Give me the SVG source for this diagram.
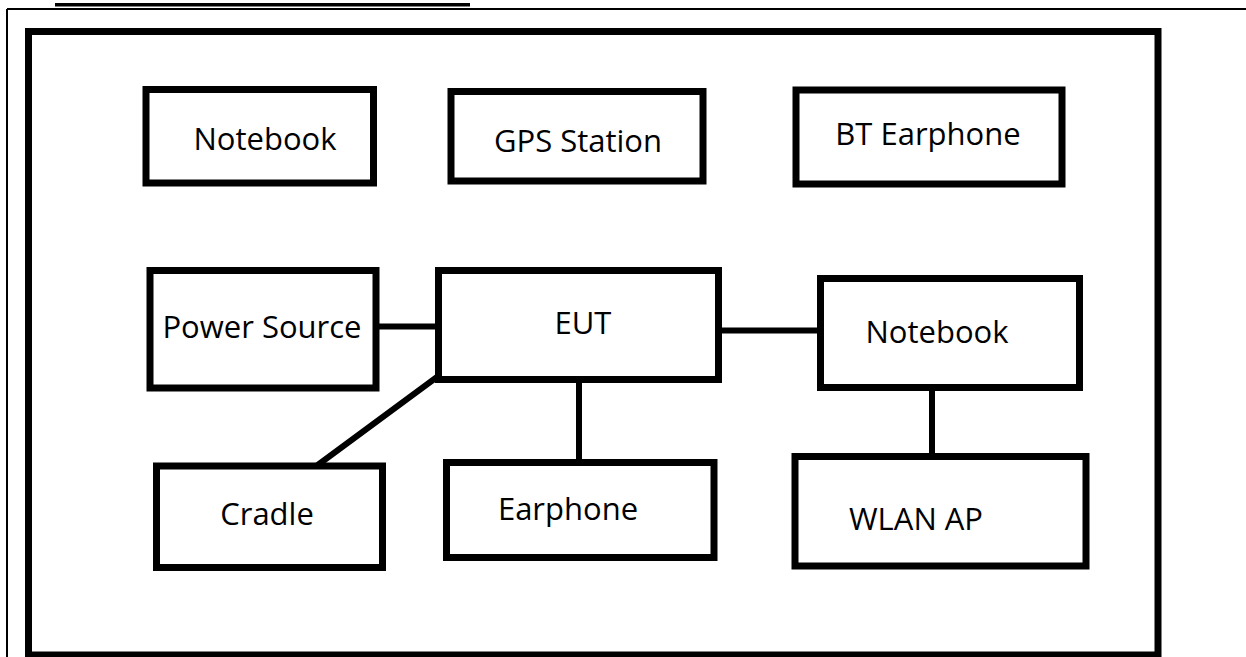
<svg xmlns="http://www.w3.org/2000/svg" width="1246" height="657" viewBox="0 0 1246 657">
<style>
  .box { fill: #ffffff; stroke: #000000; stroke-width: 7; }
  .lbl { font-family: "Open Sans", "Noto Sans", "Liberation Sans", sans-serif; font-size: 31px; fill: #000000; text-anchor: middle; }
  .conn { stroke: #000000; stroke-width: 6; fill: none; stroke-linecap: round; }
  .frame { stroke: #000000; stroke-width: 2; fill: none; }
</style>
<rect width="1246" height="657" fill="#ffffff"/>
<g id="page-frame">
  <line class="frame" x1="7" y1="9" x2="1246" y2="9"/>
  <line class="frame" x1="7" y1="9" x2="7" y2="657"/>
  <rect x="55" y="3" width="415" height="3.5" fill="#000000"/>
</g>
<g id="outer-box">
  <rect x="28.5" y="31.5" width="1129.5" height="623.5" fill="#ffffff" stroke="#000000" stroke-width="7"/>
</g>
<g id="connectors">
  <line class="conn" x1="373" y1="326.5" x2="438" y2="326.5"/>
  <line class="conn" x1="718" y1="330.5" x2="826" y2="330.5"/>
  <line class="conn" x1="437" y1="377" x2="315" y2="467"/>
  <line class="conn" x1="579" y1="378" x2="579" y2="470"/>
  <line class="conn" x1="932" y1="383" x2="932" y2="462"/>
</g>
<g id="node-notebook-top">
  <rect class="box" x="146" y="89.5" width="227.5" height="93.5"/>
  <text class="lbl" x="265" y="150">Notebook</text>
</g>
<g id="node-gps-station">
  <rect class="box" x="451" y="91.5" width="252" height="89.5"/>
  <text class="lbl" x="578" y="152">GPS Station</text>
</g>
<g id="node-bt-earphone">
  <rect class="box" x="796" y="90" width="266" height="94"/>
  <text class="lbl" x="928" y="145">BT Earphone</text>
</g>
<g id="node-power-source">
  <rect class="box" x="150" y="270.5" width="226" height="117.5"/>
  <text class="lbl" x="262" y="338">Power Source</text>
</g>
<g id="node-eut">
  <rect class="box" x="438.5" y="270.5" width="280" height="109"/>
  <text class="lbl" x="583" y="334">EUT</text>
</g>
<g id="node-notebook-right">
  <rect class="box" x="820.5" y="278.5" width="259" height="109"/>
  <text class="lbl" x="937" y="343">Notebook</text>
</g>
<g id="node-cradle">
  <rect class="box" x="156.5" y="466" width="226" height="101.5"/>
  <text class="lbl" x="267" y="525">Cradle</text>
</g>
<g id="node-earphone">
  <rect class="box" x="446.5" y="462.5" width="267.5" height="95"/>
  <text class="lbl" x="568" y="520">Earphone</text>
</g>
<g id="node-wlan-ap">
  <rect class="box" x="795" y="456.5" width="291" height="109.5"/>
  <text class="lbl" x="916" y="530">WLAN AP</text>
</g>
</svg>
